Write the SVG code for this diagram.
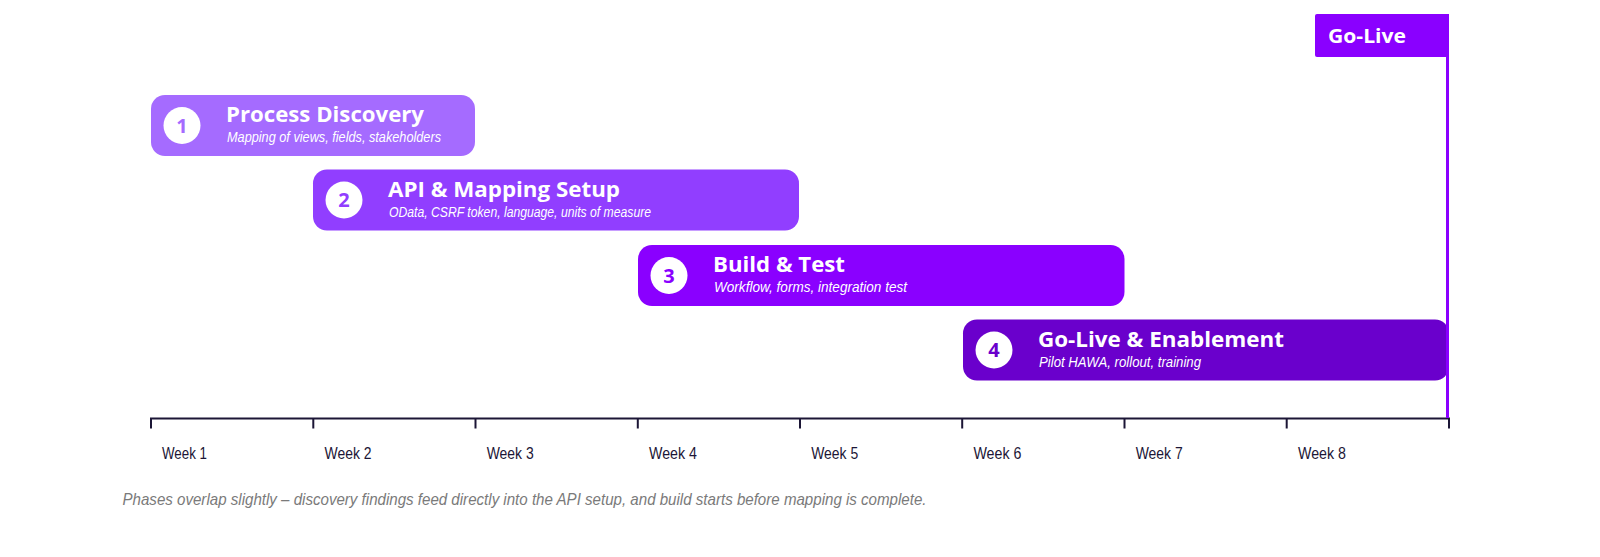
<svg xmlns="http://www.w3.org/2000/svg" width="1600" height="557" viewBox="0 0 1600 557">
<style>
.title{font-family:"Open Sans","Noto Sans",sans-serif;font-weight:700;font-size:21px;fill:#ffffff}
.sub{font-family:"Liberation Sans",sans-serif;font-style:italic;font-size:15px;fill:#ffffff}
.num{font-family:"Open Sans","Noto Sans",sans-serif;font-weight:700;font-size:20px;text-anchor:middle}
.week{font-family:"Liberation Sans",sans-serif;font-size:16.5px;fill:#1c1636}
.axis{stroke:#1c1636;stroke-width:2;fill:none}
.cap{font-family:"Liberation Sans",sans-serif;font-style:italic;font-size:16.5px;fill:#7a7a7a}
.circ{fill:#ffffff}
</style>
<rect width="1600" height="557" fill="#ffffff"/>
<g id="phase1">
<rect x="151" y="95" width="324" height="61" rx="14" fill="#a56bff"/>
<circle class="circ" cx="182" cy="125.5" r="18.5"/>
<text class="num" x="182" y="132.5" fill="#a56bff">1</text>
<text class="title" x="226" y="122" textLength="198" lengthAdjust="spacingAndGlyphs">Process Discovery</text>
<text class="sub" x="227" y="142" textLength="214" lengthAdjust="spacingAndGlyphs">Mapping of views, fields, stakeholders</text>
</g>
<g id="phase2">
<rect x="313" y="169.5" width="486" height="61" rx="14" fill="#913eff"/>
<circle class="circ" cx="344" cy="200" r="18.5"/>
<text class="num" x="344" y="207" fill="#913eff">2</text>
<text class="title" x="388" y="196.5" textLength="232" lengthAdjust="spacingAndGlyphs">API &amp; Mapping Setup</text>
<text class="sub" x="389" y="216.5" textLength="262" lengthAdjust="spacingAndGlyphs">OData, CSRF token, language, units of measure</text>
</g>
<g id="phase3">
<rect x="638" y="245" width="486.5" height="61" rx="14" fill="#8a00ff"/>
<circle class="circ" cx="669" cy="275.5" r="18.5"/>
<text class="num" x="669" y="282.5" fill="#8a00ff">3</text>
<text class="title" x="713" y="272" textLength="132" lengthAdjust="spacingAndGlyphs">Build &amp; Test</text>
<text class="sub" x="714" y="292" textLength="193" lengthAdjust="spacingAndGlyphs">Workflow, forms, integration test</text>
</g>
<g id="phase4">
<rect x="963" y="319.5" width="486" height="61" rx="14" fill="#6a00cc"/>
<circle class="circ" cx="994" cy="350" r="18.5"/>
<text class="num" x="994" y="357" fill="#6a00cc">4</text>
<text class="title" x="1038" y="346.5" textLength="246" lengthAdjust="spacingAndGlyphs">Go-Live &amp; Enablement</text>
<text class="sub" x="1039" y="366.5" textLength="162" lengthAdjust="spacingAndGlyphs">Pilot HAWA, rollout, training</text>
</g>
<g id="axis">
<line class="axis" x1="150" y1="418.5" x2="1450" y2="418.5"/>
<path class="axis" d="M151 418.5v10M313.3 418.5v10M475.5 418.5v10M637.8 418.5v10M800 418.5v10M962.2 418.5v10M1124.5 418.5v10M1286.7 418.5v10M1449 418.5v10"/>
<text class="week" x="162" y="458.5" textLength="45" lengthAdjust="spacingAndGlyphs">Week 1</text>
<text class="week" x="324.5" y="458.5" textLength="47" lengthAdjust="spacingAndGlyphs">Week 2</text>
<text class="week" x="486.7" y="458.5" textLength="47" lengthAdjust="spacingAndGlyphs">Week 3</text>
<text class="week" x="649" y="458.5" textLength="48" lengthAdjust="spacingAndGlyphs">Week 4</text>
<text class="week" x="811.2" y="458.5" textLength="47" lengthAdjust="spacingAndGlyphs">Week 5</text>
<text class="week" x="973.4" y="458.5" textLength="48" lengthAdjust="spacingAndGlyphs">Week 6</text>
<text class="week" x="1135.7" y="458.5" textLength="47" lengthAdjust="spacingAndGlyphs">Week 7</text>
<text class="week" x="1298" y="458.5" textLength="48" lengthAdjust="spacingAndGlyphs">Week 8</text>
</g>
<g id="golive">
<line x1="1447.5" y1="14" x2="1447.5" y2="418" stroke="#8a00ff" stroke-width="3"/>
<rect x="1315" y="14" width="134" height="43" rx="2" fill="#8a00ff"/>
<text x="1328" y="43" font-family="'Open Sans','Noto Sans',sans-serif" font-weight="700" font-size="19" fill="#ffffff" textLength="78" lengthAdjust="spacingAndGlyphs">Go-Live</text>
</g>
<text class="cap" x="122.5" y="504.5" textLength="804" lengthAdjust="spacingAndGlyphs">Phases overlap slightly – discovery findings feed directly into the API setup, and build starts before mapping is complete.</text>
</svg>
